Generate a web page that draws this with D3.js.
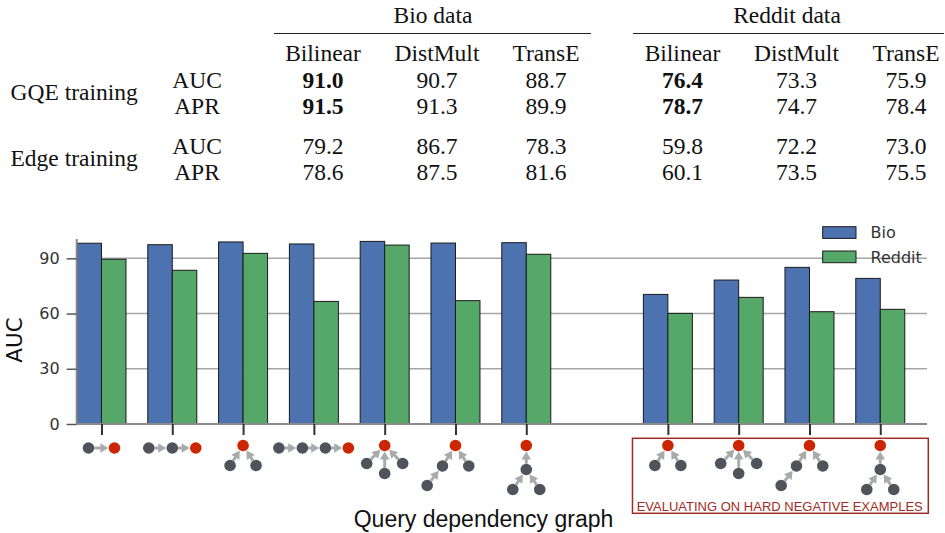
<!DOCTYPE html>
<html>
<head>
<meta charset="utf-8" />
<title></title>
<script src="https://d3js.org/d3.v7.min.js"></script>
<style>
    body { margin: 0; background: #fff; }
    .serif { font-family: "Liberation Serif", "Times New Roman", serif; font-size: 23.5px; fill: #111; }
    .tick-lbl { font-family: "DejaVu Sans", sans-serif; font-size: 16px; fill: #333; }
</style>
</head>
<body>
<div id="chart"></div>
<script>
    // table at the top
    var datasets = ["Bio data", "Reddit data"];
    var models = ["Bilinear", "DistMult", "TransE"];
    var trainings = ["GQE training", "Edge training"];
    var metrics = ["AUC", "APR", "AUC", "APR"];
    var bioTable = [[91.0, 90.7, 88.7], [91.5, 91.3, 89.9], [79.2, 86.7, 78.3], [78.6, 87.5, 81.6]];
    var redditTable = [[76.4, 73.3, 75.9], [78.7, 74.7, 78.4], [59.8, 72.2, 73.0], [60.1, 73.5, 75.5]];
    var boldCells = ["0-0", "1-0"]; // row-col, bold in both datasets

    // bar chart
    var queryShapes = ["chain2", "chain3", "and2", "chain4", "and3", "chainAnd", "andChain", null,
                       "and2", "and3", "chainAnd", "andChain"];
    var bioAUC = [98.2, 97.4, 98.9, 97.8, 99.2, 98.3, 98.5, null, 70.4, 78.2, 85.1, 79.1];
    var redditAUC = [89.5, 83.5, 92.7, 66.6, 97.2, 67.0, 92.2, null, 60.1, 68.8, 61.0, 62.3];
    var seriesNames = ["Bio", "Reddit"];
    var yTicks = [0, 30, 60, 90];

    var blue = "#4c72b0", green = "#55a868";
    var nodeGray = "#4e535c", nodeRed = "#cc2600", arrowGray = "#a9abab", boxRed = "#9e2b25";

    // glyph templates for the query graphs: nodes (dx, dy, target?) and edges
    var shapes = {
        chain2: { y: 24, nodes: [[-13, 0], [13, 0, 1]], edges: [[0, 1]] },
        chain3: { y: 24, nodes: [[-23.5, 0], [0, 0], [23.5, 0, 1]], edges: [[0, 1], [1, 2]] },
        chain4: { y: 24, nodes: [[-35, 0], [-11.5, 0], [11.5, 0], [34.5, 0, 1]], edges: [[0, 1], [1, 2], [2, 3]] },
        and2: { y: 21.5, nodes: [[0, 0, 1], [-13, 20], [13, 20]], edges: [[1, 0], [2, 0]] },
        and3: { y: 21.5, nodes: [[0, 0, 1], [-18, 18], [0, 28], [18, 18]], edges: [[1, 0], [2, 0], [3, 0]] },
        chainAnd: { y: 21.5, nodes: [[0, 0, 1], [-13, 20.5], [13.3, 20.5], [-28.3, 40]], edges: [[1, 0], [2, 0], [3, 1]] },
        andChain: { y: 21.5, nodes: [[0, 0, 1], [0, 24], [-13.5, 44], [13.5, 44]], edges: [[1, 0], [2, 1], [3, 1]] }
    };

    var W = 945, H = 533;
    var svg = d3.select("#chart").append("svg").attr("width", W).attr("height", H);

    // ---------- table ----------
    var groupX = [{ title: 433, cols: [323, 437, 546], rule: [274, 591] },
                  { title: 787, cols: [682.5, 796.5, 906], rule: [633, 944] }];
    var rowY = [88, 113.5, 153.5, 179.5];
    var tables = [bioTable, redditTable];
    var tbl = svg.append("g");

    datasets.forEach(function (name, g) {
        var gx = groupX[g];
        tbl.append("text").attr("class", "serif").attr("x", gx.title).attr("y", 23)
            .attr("text-anchor", "middle").text(name);
        tbl.append("line").attr("x1", gx.rule[0]).attr("x2", gx.rule[1])
            .attr("y1", 33.5).attr("y2", 33.5).attr("stroke", "#222").attr("stroke-width", 1.2);
        models.forEach(function (m, c) {
            tbl.append("text").attr("class", "serif").attr("x", gx.cols[c]).attr("y", 61)
                .attr("text-anchor", "middle").text(m);
        });
        tables[g].forEach(function (row, r) {
            row.forEach(function (v, c) {
                tbl.append("text").attr("class", "serif").attr("x", gx.cols[c]).attr("y", rowY[r])
                    .attr("text-anchor", "middle")
                    .style("font-weight", boldCells.indexOf(r + "-" + c) >= 0 ? "bold" : "normal")
                    .text(v.toFixed(1));
            });
        });
    });
    trainings.forEach(function (t, i) {
        tbl.append("text").attr("class", "serif").attr("x", 10.5).attr("y", i == 0 ? 100 : 165.5).text(t);
    });
    metrics.forEach(function (m, i) {
        tbl.append("text").attr("class", "serif").attr("x", 197).attr("y", rowY[i])
            .attr("text-anchor", "middle").text(m);
    });

    // ---------- bar chart ----------
    var bw = 0.346;
    var x = d3.scaleLinear().domain([-0.35, 11.66]).range([76.7, 927]);
    var y = d3.scaleLinear().domain([0, 100.5]).range([424, 239]);
    var barW = x(bw) - x(0);

    // gridlines
    svg.append("g").selectAll("line").data(yTicks.filter(function (d) { return d > 0; }))
        .enter().append("line")
        .attr("x1", x.range()[0]).attr("x2", x.range()[1])
        .attr("y1", function (d) { return y(d); }).attr("y2", function (d) { return y(d); })
        .attr("stroke", "#a6a6a6").attr("stroke-width", 1.5);

    var slots = bioAUC.map(function (v, i) { return { i: i, bio: v, reddit: redditAUC[i], shape: queryShapes[i] }; })
        .filter(function (d) { return d.bio != null; });

    var bars = svg.append("g");
    bars.selectAll(".bio").data(slots).enter().append("rect")
        .attr("x", function (d) { return x(d.i) - barW; })
        .attr("width", barW)
        .attr("y", function (d) { return y(d.bio); })
        .attr("height", function (d) { return y(0) - y(d.bio); })
        .attr("fill", blue).attr("stroke", "#1a1a1a").attr("stroke-width", 1);
    bars.selectAll(".reddit").data(slots).enter().append("rect")
        .attr("x", function (d) { return x(d.i); })
        .attr("width", barW)
        .attr("y", function (d) { return y(d.reddit); })
        .attr("height", function (d) { return y(0) - y(d.reddit); })
        .attr("fill", green).attr("stroke", "#1a1a1a").attr("stroke-width", 1);

    // y axis
    var yAxis = svg.append("g").attr("transform", "translate(" + x.range()[0] + ",0)")
        .call(d3.axisLeft(y).tickValues(yTicks).tickSize(10).tickPadding(7).tickFormat(d3.format("d")));
    yAxis.select(".domain").attr("stroke", "#8a8a8a").attr("stroke-width", 2).attr("d", "M0," + y.range()[1] + "V" + y(0));
    yAxis.selectAll(".tick line").attr("stroke", "#555").attr("stroke-width", 1.5);
    yAxis.selectAll(".tick text").attr("class", "tick-lbl").attr("font-family", null).attr("font-size", null);

    // x axis
    var xAxis = svg.append("g").attr("transform", "translate(0," + y(0) + ")")
        .call(d3.axisBottom(x).tickValues(slots.map(function (d) { return d.i; })).tickSize(11).tickFormat(""));
    xAxis.select(".domain").attr("stroke", "#8a8a8a").attr("stroke-width", 2).attr("d", "M" + x.range()[0] + ",0H" + x.range()[1]);
    xAxis.selectAll(".tick line").attr("stroke", "#333").attr("stroke-width", 2);

    // axis labels
    svg.append("text").attr("transform", "translate(21.5,340) rotate(-90)")
        .attr("text-anchor", "middle").style("font-family", "DejaVu Sans, sans-serif")
        .style("font-size", "21.5px").style("fill", "#111").text("AUC");
    svg.append("text").attr("x", 483.5).attr("y", 527).attr("text-anchor", "middle")
        .style("font-family", "Liberation Sans, Arial, sans-serif").style("font-size", "23px")
        .style("fill", "#111").text("Query dependency graph");

    // legend
    var legend = svg.append("g");
    seriesNames.forEach(function (s, i) {
        var ly = 226.7 + i * 24.3;
        legend.append("rect").attr("x", 822.7).attr("y", ly).attr("width", 33.3).attr("height", 11.7)
            .attr("fill", i == 0 ? blue : green).attr("stroke", "#1a1a1a").attr("stroke-width", 1);
        legend.append("text").attr("x", 870.5).attr("y", ly + 5.9).attr("dy", "0.36em")
            .style("font-family", "DejaVu Sans, sans-serif").style("font-size", "16px").style("fill", "#333").text(s);
    });

    // hard negative box
    svg.append("rect").attr("x", x(7.5)).attr("y", 438.3)
        .attr("width", x.range()[1] + 1.3 - x(7.5)).attr("height", 75)
        .attr("fill", "none").attr("stroke", boxRed).attr("stroke-width", 1.5);
    svg.append("text").attr("x", (x(7.5) + x.range()[1]) / 2).attr("y", 511)
        .attr("text-anchor", "middle").style("font-family", "Liberation Sans, Arial, sans-serif")
        .style("font-size", "13px").style("fill", boxRed).text("EVALUATING ON HARD NEGATIVE EXAMPLES");

    // query graph glyphs
    var r = 5.8;
    var glyphs = svg.append("g");
    slots.forEach(function (d) {
        var sh = shapes[d.shape];
        var cx = x(d.i), cy = y(0) + sh.y;
        var g = glyphs.append("g").attr("transform", "translate(" + cx + "," + cy + ")");
        sh.edges.forEach(function (e) {
            var a = sh.nodes[e[0]], b = sh.nodes[e[1]];
            var dx = b[0] - a[0], dy = b[1] - a[1], len = Math.sqrt(dx * dx + dy * dy);
            var ux = dx / len, uy = dy / len;
            var tipX = b[0] - ux * (r + 0.3), tipY = b[1] - uy * (r + 0.3);
            var baseX = tipX - ux * 8, baseY = tipY - uy * 8;
            g.append("line").attr("x1", a[0] + ux * r).attr("y1", a[1] + uy * r)
                .attr("x2", baseX + ux).attr("y2", baseY + uy)
                .attr("stroke", arrowGray).attr("stroke-width", 3);
            g.append("path").attr("d", "M" + tipX + "," + tipY +
                "L" + (baseX - uy * 4.8) + "," + (baseY + ux * 4.8) +
                "L" + (baseX + uy * 4.8) + "," + (baseY - ux * 4.8) + "Z")
                .attr("fill", arrowGray);
        });
        sh.nodes.forEach(function (n) {
            g.append("circle").attr("cx", n[0]).attr("cy", n[1]).attr("r", r)
                .attr("fill", n[2] ? nodeRed : nodeGray);
        });
    });
</script>
</body>
</html>
